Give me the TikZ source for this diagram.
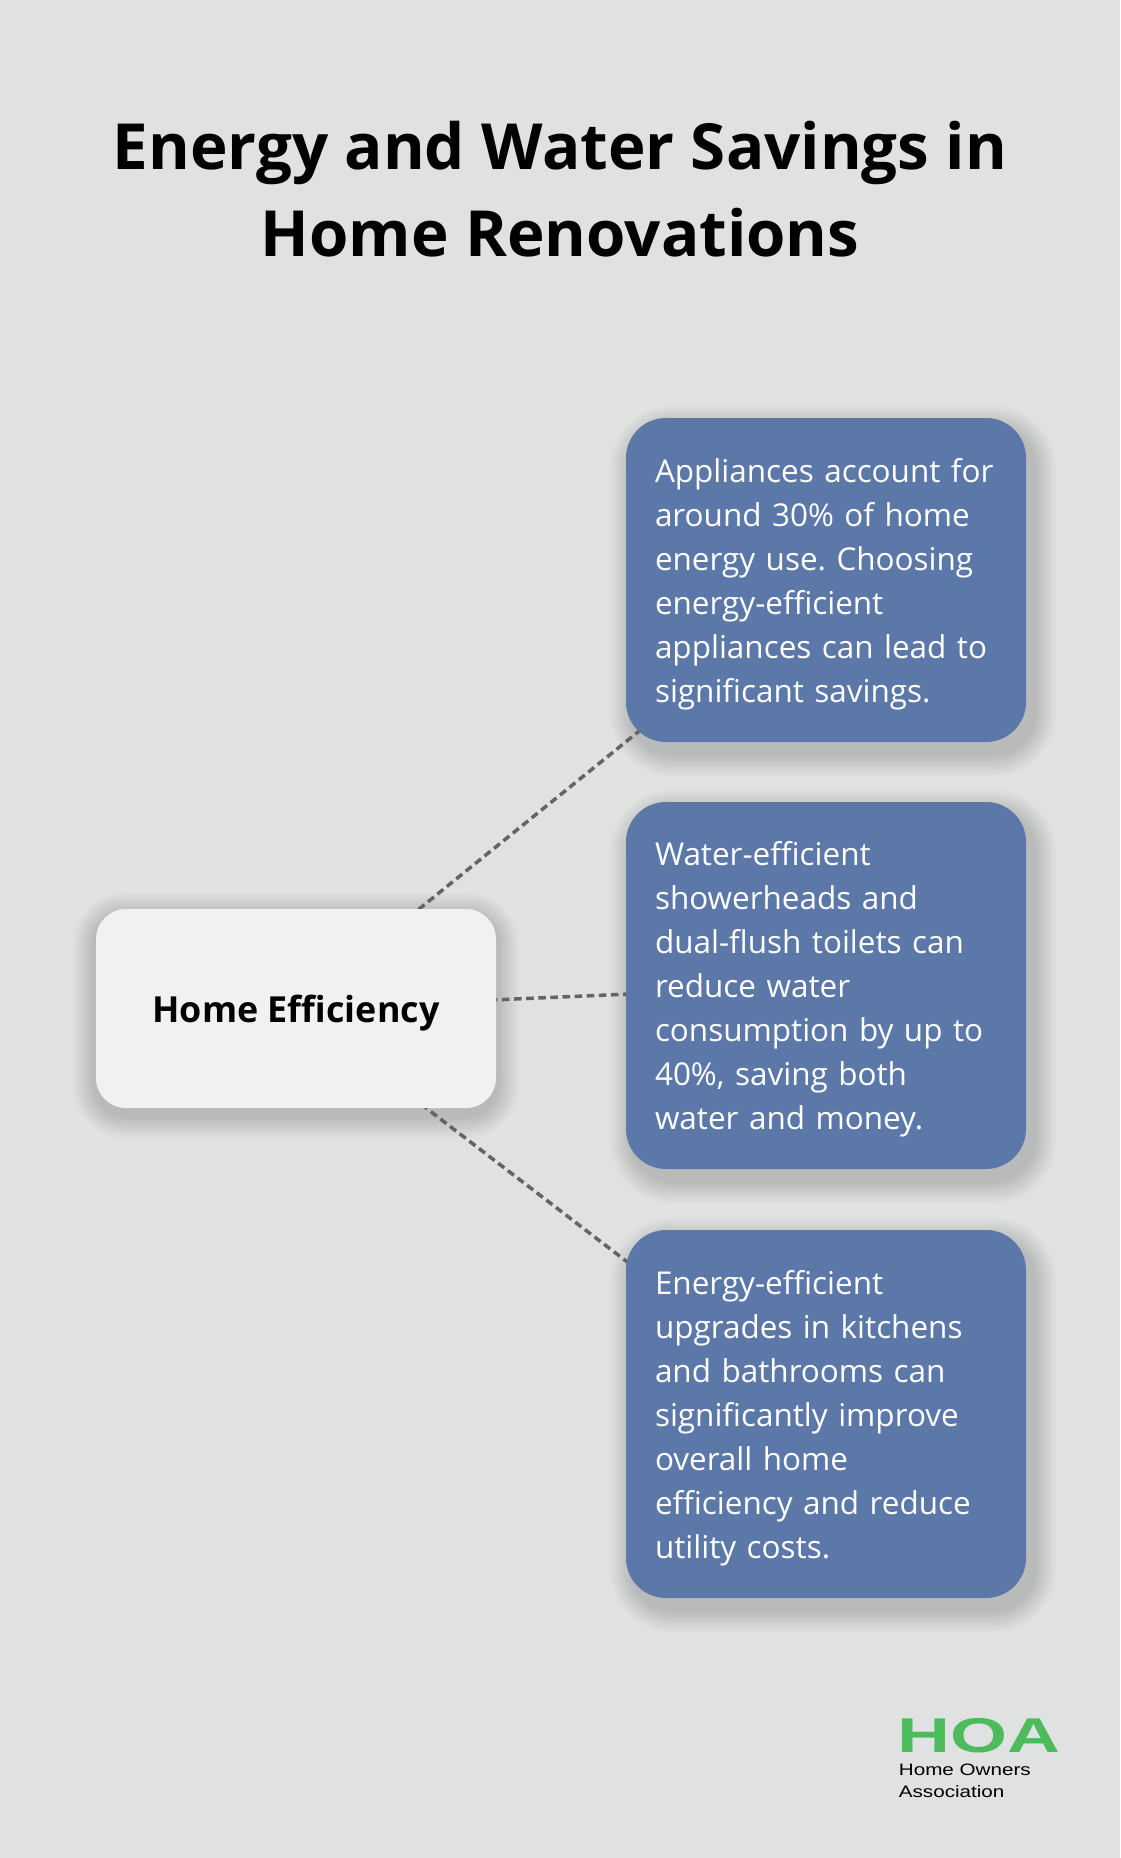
\documentclass[tikz,border=0pt]{standalone}
\usepackage{fontspec}
\usepackage{graphicx}
\setmainfont{Open Sans}
\newfontfamily\logofont{Liberation Sans}
\frenchspacing
\pgfdeclarelayer{bg}
\pgfdeclarelayer{shades}
\pgfdeclarelayer{links}
\pgfsetlayers{bg,shades,links,main}
\definecolor{pagegray}{HTML}{DFE2E1}
\definecolor{hubwhite}{HTML}{F0F2F1}
\definecolor{factblue}{HTML}{5C78A8}
\definecolor{linkgray}{HTML}{646464}
\definecolor{hoagreen}{HTML}{4CBB5C}

\begin{document}
\begin{tikzpicture}[
  hubnode/.style={rectangle,rounded corners=0.6cm,fill=hubwhite,minimum width=8cm,minimum height=3.98cm,
    text depth=0pt,font=\fontsize{20.4}{24}\selectfont\bfseries},
  factnode/.style={rectangle,rounded corners=0.8cm,fill=factblue,text=white,text width=6.84cm,inner xsep=0.58cm,
    align=left,font=\fontsize{17.9}{25.04}\selectfont,execute at begin node={\rule{0pt}{0.64cm}}},
  linkline/.style={draw=linkgray,line width=2pt,dash pattern=on 4.3pt off 2.6pt},
  shadering/.style={fill=black,opacity=0.017}]
\begin{pgfonlayer}{bg}
  \fill[pagegray] (0,0) rectangle (22.4,-37.16);
\end{pgfonlayer}
\useasboundingbox (0,0) rectangle (22.4,-37.16);

\node[font=\fontsize{36.2}{49.5}\selectfont\bfseries,align=center] (title) at (11.2,-3.79)
  {Energy and Water Savings in\\Home Renovations};

\node[hubnode] (home) at (5.92,-20.17) {Home Efficiency};

  \foreach \nm/\yy/\hh/\txt in {
    appl/-11.6/6.48/{Appliances account for\\around 30\% of home\\energy use. Choosing\\energy-efficient\\appliances can lead to\\significant savings.},
    water/-19.71/7.34/{Water-efficient\\showerheads and\\dual-flush toilets can\\reduce water\\consumption by up to\\40\%, saving both\\water and money.},
    upgr/-28.28/7.36/{Energy-efficient\\upgrades in kitchens\\and bathrooms can\\significantly improve\\overall home\\efficiency and reduce\\utility costs.}}
  {  \node [factnode,minimum height=\hh cm] (\nm) at (16.52,\yy) {\txt};}

% soft shadows under the boxes
\begin{pgfonlayer}{shades}
  \foreach \nm/\sx/\sy/\rr in {home/0/-0.14/0.6,appl/0.14/-0.22/0.8,water/0.14/-0.22/0.8,upgr/0.14/-0.22/0.8}
    \foreach \i in {1,...,10}
    {  \pgfmathsetmacro{\ee}{\i*0.045}
       \pgfmathsetmacro{\rc}{\rr+\ee}
       \fill[shadering,rounded corners=\rc cm] ([shift={(\sx-\ee,\sy-\ee)}]\nm.south west)
         rectangle ([shift={(\sx+\ee,\sy+\ee)}]\nm.north east);}
\end{pgfonlayer}

\begin{pgfonlayer}{links}
  \foreach \nm in {appl,water,upgr}
  {  \draw [linkline] (home.center) -- (\nm.center);}
\end{pgfonlayer}

\node[text=hoagreen,font=\logofont\bfseries\fontsize{27.8}{28}\selectfont,inner sep=0] (hoa) at (19.58,-34.71)
  {\scalebox{1.5}[1]{HOA}};
\node[anchor=north west,align=left,inner sep=0,font=\logofont\fontsize{9.4}{12.5}\selectfont] (hoaname) at (17.97,-35.28)
  {\scalebox{1.25}[1]{Home Owners}\\\scalebox{1.25}[1]{Association}};
\end{tikzpicture}
\end{document}
